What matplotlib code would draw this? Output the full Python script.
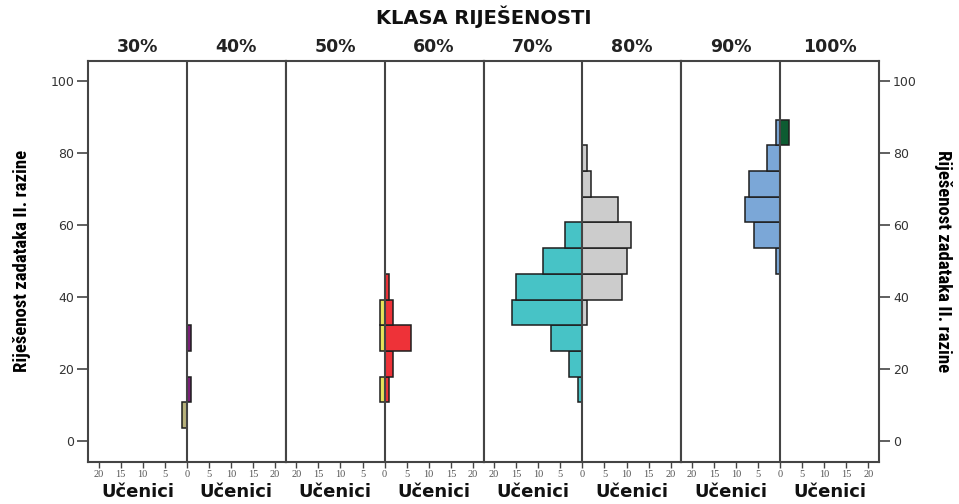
import numpy as np
import matplotlib
matplotlib.use("Agg")
import matplotlib.pyplot as plt
from matplotlib import font_manager as fm

# score bins: 0..14 points -> percentages
bins = np.arange(15) / 14 * 100

class_labels = ["30%", "40%", "50%", "60%", "70%", "80%", "90%", "100%"]
# number of students per bin (index 0..14)
c30 = [0, 1, 0, 0, 0, 0, 0, 0, 0, 0, 0, 0, 0, 0, 0]
c40 = [0, 0, 1, 0, 1, 0, 0, 0, 0, 0, 0, 0, 0, 0, 0]
c50 = [0, 0, 1, 0, 1, 1, 0, 0, 0, 0, 0, 0, 0, 0, 0]
c60 = [0, 0, 1, 2, 6, 2, 1, 0, 0, 0, 0, 0, 0, 0, 0]
c70 = [0, 0, 1, 3, 7, 16, 15, 9, 4, 0, 0, 0, 0, 0, 0]
c80 = [0, 0, 0, 0, 0, 1, 9, 10, 11, 8, 2, 1, 0, 0, 0]
c90 = [0, 0, 0, 0, 0, 0, 0, 1, 6, 8, 7, 3, 1, 0, 0]
c100 = [0, 0, 0, 0, 0, 0, 0, 0, 0, 0, 0, 0, 2, 0, 0]

counts = [c30, c40, c50, c60, c70, c80, c90, c100]
colors = ["#b8b27c", "#7a1f78", "#e8e25a", "#ee3238",
          "#47c3c6", "#cccccc", "#7ba7d7", "#0d5c32"]

x_ticks = [-20, -15, -10, -5, 0, 5, 10, 15, 20]
y_ticks = [0, 20, 40, 60, 80, 100]

LINE = "#444444"
XLIM = 22.4
YLIM = (-5.83, 105.56)

# narrow bold font for the side labels, if one is around
names = {f.name for f in fm.fontManager.ttflist}
narrow = None
for cand in ["Liberation Sans Narrow", "Arial Narrow", "Roboto Condensed", "DejaVu Sans Condensed"]:
    if cand in names:
        narrow = cand
        break
ylab_kw = dict(fontweight="bold")
if narrow:
    ylab_kw.update(family=[narrow, "DejaVu Sans"], fontsize=13.5)
else:
    ylab_kw.update(family=["DejaVu Sans"], fontstretch="condensed", fontsize=10.5)

fig = plt.figure(figsize=(9.59, 5.04), dpi=100)
left, right, bottom, top = 88 / 959, 879 / 959, 1 - 462 / 504, 1 - 61 / 504
w = (right - left) / 4

for p in range(4):
    ax = fig.add_axes([left + p * w, bottom, w, top - bottom])
    for side, sign in ((0, -1), (1, 1)):
        i = 2 * p + side
        vals = np.array(counts[i])
        m = vals > 0
        ax.barh(bins[m], sign * vals[m], height=100 / 14, color=colors[i],
                edgecolor="#1e1e1e", linewidth=1.1, zorder=2)
    ax.axvline(0, color=LINE, lw=1.5, zorder=3)
    ax.set_xlim(-XLIM, XLIM)
    ax.set_ylim(*YLIM)
    for s in ax.spines.values():
        s.set_color(LINE)
        s.set_linewidth(1.5)
    ax.set_xticks(x_ticks)
    ax.set_xticklabels([str(abs(t)) for t in x_ticks], family="Liberation Serif",
                       fontsize=7.5, color="#555555")
    ax.tick_params(axis="x", length=4, width=1, color=LINE, pad=2)
    if p == 0:
        ax.set_yticks(y_ticks)
        ax.tick_params(axis="y", length=8, width=1.2, color=LINE, labelsize=9,
                       labelcolor="#333333", pad=2)
    elif p == 3:
        ax.yaxis.tick_right()
        ax.set_yticks(y_ticks)
        ax.tick_params(axis="y", length=8, width=1.2, color=LINE, labelsize=9,
                       labelcolor="#333333", pad=2)
    else:
        ax.set_yticks([])

    for side in range(2):
        cx = left + p * w + (0.25 + 0.5 * side) * w
        fig.text(cx, 1 - 47 / 504, class_labels[2 * p + side], ha="center", va="center",
                 fontsize=12.5, fontweight="bold", color="#222222")
        fig.text(cx, 1 - 492 / 504, "Učenici", ha="center", va="center",
                 fontsize=13, fontweight="bold", color="#111111")

fig.text(484 / 959, 1 - 17 / 504, "KLASA RIJEŠENOSTI", ha="center", va="center",
         fontsize=14, fontweight="bold", color="#111111")

ylab = "Riješenost zadataka II. razine"
fig.text(22 / 959, 1 - 261 / 504, ylab, rotation=90, ha="center", va="center", **ylab_kw)
fig.text(943 / 959, 1 - 261 / 504, ylab, rotation=-90, ha="center", va="center", **ylab_kw)

fig.savefig("out.png", dpi=100)
